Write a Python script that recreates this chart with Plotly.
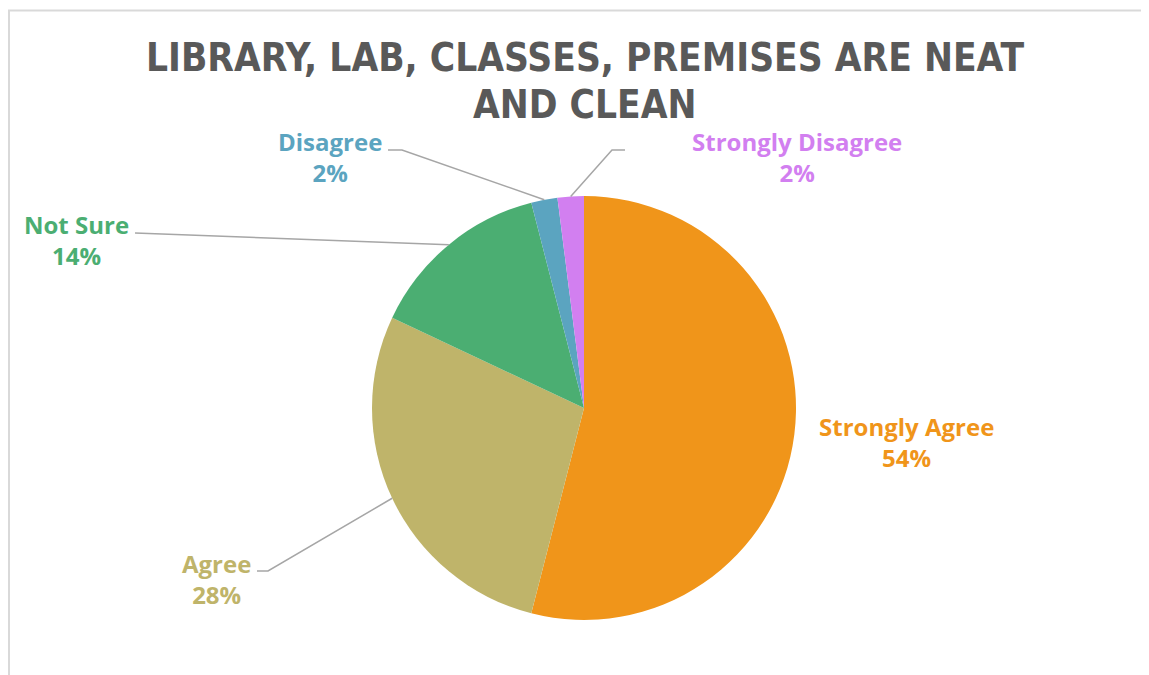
import math
import plotly.graph_objects as go

# ---- data ----
categories = ["Strongly Agree", "Agree", "Not Sure", "Disagree", "Strongly Disagree"]
percentages = [54, 28, 14, 2, 2]
colors = ["#F0951A", "#BFB46A", "#4BAE72", "#5BA4C0", "#D27FF0"]
title_lines = ["LIBRARY, LAB, CLASSES, PREMISES ARE NEAT", "AND CLEAN"]

# ---- layout helpers (page pixel -> paper); page body has an 8px margin ----
OFF = 8
W, H = 1149 - OFF, 675 - OFF
cx, cy, r = 584, 408, 212


def px(x):
    return (x - OFF) / W


def py(y):
    return 1 - (y - OFF) / H


fig = go.Figure(
    go.Pie(
        labels=categories,
        values=percentages,
        sort=False,
        direction="clockwise",
        rotation=0,
        marker=dict(colors=colors, line=dict(width=0)),
        textinfo="none",
        hoverinfo="label+percent",
        domain=dict(x=[px(cx - r), px(cx + r)], y=[py(cy + r), py(cy - r)]),
        showlegend=False,
    )
)

# label placement (text centre, leader-line elbow points in page pixels)
label_layout = {
    "Strongly Agree": dict(pos=(906, 442), elbow=None),
    "Agree": dict(pos=(216, 579), elbow=[(257, 571), (268, 571)]),
    "Not Sure": dict(pos=(76, 240), elbow=[(135, 233)]),
    "Disagree": dict(pos=(330, 157), elbow=[(388, 150), (402, 150)]),
    "Strongly Disagree": dict(pos=(797, 157), elbow=[(625, 150), (612, 150)]),
}

total = sum(percentages)
annotations = []
shapes = []
cum = 0.0
for cat, val, col in zip(categories, percentages, colors):
    mid = (cum + val / 2) / total * 2 * math.pi
    cum += val
    ex = cx + r * math.sin(mid)
    ey = cy - r * math.cos(mid)
    cfg = label_layout[cat]
    pct = round(val / total * 100)
    annotations.append(
        dict(
            x=px(cfg["pos"][0]), y=py(cfg["pos"][1]), xref="paper", yref="paper",
            text=f"{cat}<br>{pct}%", showarrow=False, align="center",
            xanchor="center", yanchor="middle",
            font=dict(family="Open Sans", size=24, color=col, weight=700),
        )
    )
    if cfg["elbow"]:
        pts = cfg["elbow"] + [(ex, ey)]
        path = "M " + " L ".join(f"{px(x):.5f},{py(y):.5f}" for x, y in pts)
        shapes.append(dict(type="path", xref="paper", yref="paper", path=path,
                           line=dict(color="#A6A6A6", width=1.5)))

# title lines
for t, yy in zip(title_lines, [58, 105]):
    annotations.append(
        dict(
            x=px(585), y=py(yy), xref="paper", yref="paper", text=t, showarrow=False,
            xanchor="center", yanchor="middle",
            font=dict(family="DejaVu Sans Condensed, sans-serif",
                      size=38.5, color="#595959", weight="bold"),
        )
    )

# chart-area border (top and left visible)
shapes.append(dict(type="line", xref="paper", yref="paper", x0=0, x1=1, y0=py(10.5), y1=py(10.5),
                   line=dict(color="#D9D9D9", width=2)))
shapes.append(dict(type="line", xref="paper", yref="paper", x0=px(9), x1=px(9), y0=py(10), y1=0,
                   line=dict(color="#D9D9D9", width=2)))

fig.update_layout(
    width=W, height=H,
    margin=dict(l=0, r=0, t=0, b=0),
    paper_bgcolor="white", plot_bgcolor="white",
    annotations=annotations, shapes=shapes,
)

fig.write_html("out.html")
